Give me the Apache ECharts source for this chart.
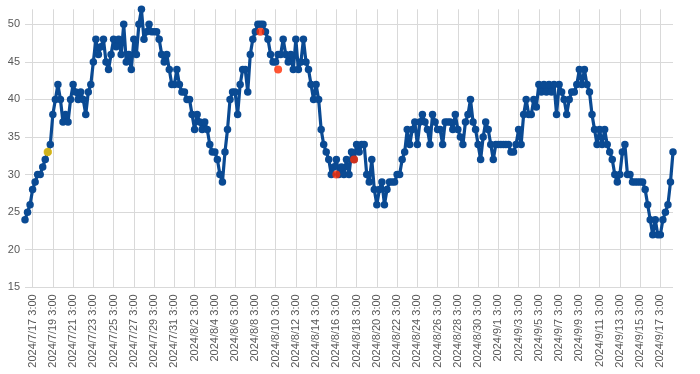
<!DOCTYPE html>
<html><head><meta charset="utf-8">
<script src="https://cdn.jsdelivr.net/npm/echarts@6/dist/echarts.min.js"></script>
<style>html,body{margin:0;padding:0;background:#fff}#c{width:700px;height:374px}</style>
</head><body><div id="c"></div>
<script>
// Observations every 6 hours, first one at 2024/7/16 9:00
const startYear = 2024, startMonth = 7, startDay = 16, startHour = 9, stepHours = 6;
const values = [
  24,25,26,28,29,30,30,31,32,33,
  34,38,40,42,40,37,38,37,40,42,
  41,40,41,40,38,41,42,45,48,46,
  47,48,45,44,46,48,47,48,46,50,
  45,46,44,48,46,50,52,48,49,50,
  49,49,49,48,46,45,46,44,42,42,
  44,42,41,41,40,40,38,36,38,37,
  36,37,36,34,33,33,32,30,29,33,
  36,40,41,41,38,42,44,44,41,46,
  48,49,50,50,50,49,48,46,45,45,
  46,46,48,46,45,46,44,48,44,45,
  48,45,44,42,40,42,40,36,34,33,
  32,30,31,32,30,31,30,32,30,33,
  32,34,33,34,34,30,29,32,28,26,
  28,29,26,28,29,29,29,30,30,32,
  33,36,34,36,37,34,37,38,37,36,
  34,38,37,36,36,34,37,37,37,36,
  38,36,35,34,37,38,40,37,36,34,
  32,35,37,36,34,32,34,34,34,34,
  34,34,33,33,34,36,34,38,40,38,
  38,40,39,42,41,42,41,42,41,42,
  38,42,41,40,38,40,41,41,42,44,
  42,44,42,41,38,36,34,36,34,36,
  34,33,32,30,29,30,33,34,30,30,
  29,29,29,29,29,28,26,24,22,24,
  22,22,24,25,26,29,33
];
const yTicks = [15,20,25,30,35,40,45,50];
// highlighted observations: [category index, value]
const yellowPoints = [[9,33]];
const redPoints = [[93,49],[100,44],[123,30],[130,32]];

function fmt(d){return d.getFullYear()+'/'+(d.getMonth()+1)+'/'+d.getDate()+' '+d.getHours()+':00';}
const categories = values.map((v,i)=>fmt(new Date(startYear,startMonth-1,startDay,startHour+i*stepHours)));
const isLabelTick = (i)=> (i-3)%8===0;

const chart = echarts.init(document.getElementById('c'), null, {renderer:'canvas'});
chart.setOption({
  animation:false,
  backgroundColor:'#fff',
  grid:{left:25,right:27,top:9.3,bottom:86.7,outerBoundsMode:'none',containLabel:false},
  xAxis:{
    type:'category', data:categories, boundaryGap:false,
    axisLine:{show:false}, axisTick:{show:false},
    axisLabel:{interval:isLabelTick, rotate:90, fontSize:11, color:'#595959', fontFamily:'Liberation Sans', margin:7},
    splitLine:{show:true, interval:isLabelTick, lineStyle:{color:'#d9d9d9',width:1}}
  },
  yAxis:{
    type:'value', min:15, max:52, interval:5,
    axisLine:{show:false}, axisTick:{show:false, customValues:yTicks},
    axisLabel:{customValues:yTicks, fontSize:11, color:'#595959', fontFamily:'Liberation Sans', margin:5},
    splitLine:{show:true, lineStyle:{color:'#d9d9d9',width:1}}
  },
  series:[
    {type:'line', data:values, symbol:'circle', symbolSize:7.5, showAllSymbol:true,
     lineStyle:{color:'#0a4a93',width:3.2}, itemStyle:{color:'#0a4a93'}, z:2},
    {type:'scatter', data:redPoints, symbolSize:8, itemStyle:{color:'#ff2a00'}, z:3},
    {type:'scatter', data:yellowPoints, symbolSize:8.5, itemStyle:{color:'#ffcc00'}, z:3}
  ]
});
</script></body></html>
